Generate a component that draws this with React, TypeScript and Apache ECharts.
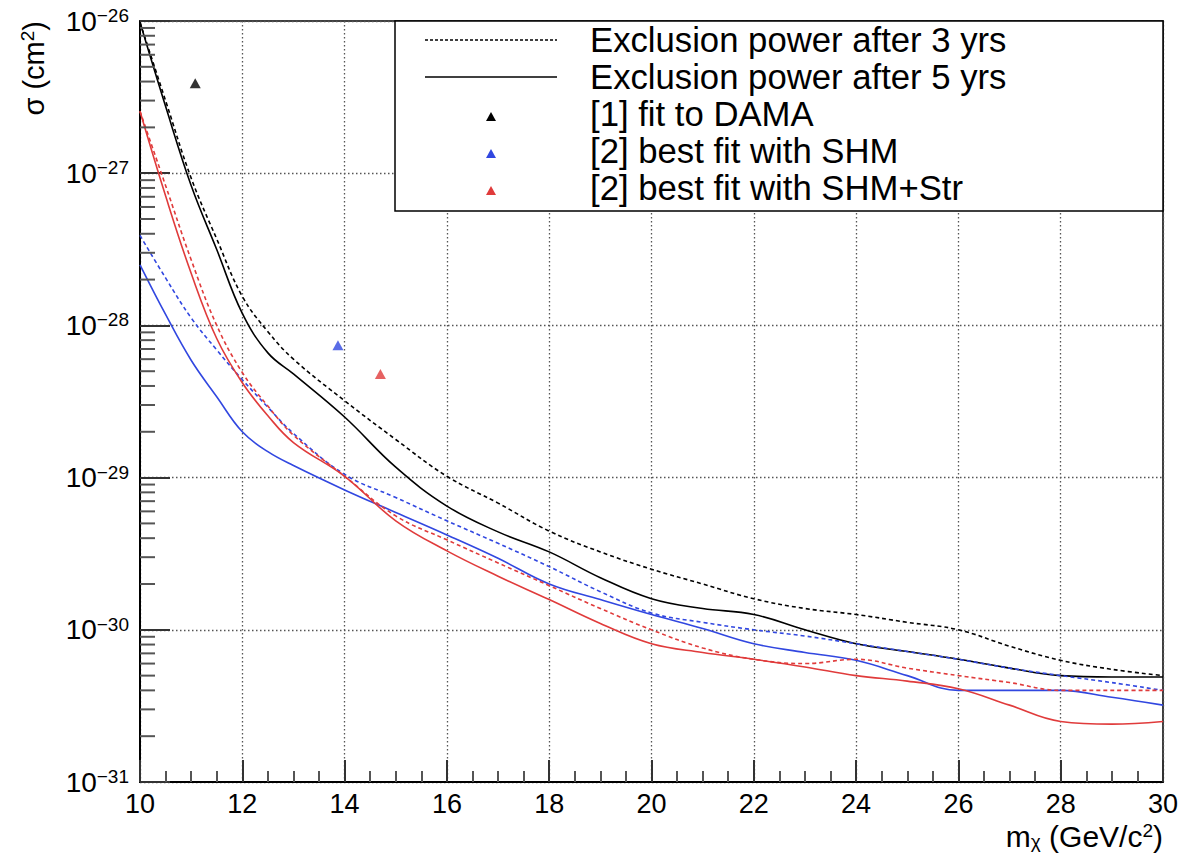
import React, { useEffect, useRef } from 'react';
import * as echarts from 'echarts';

// WIMP mass (GeV/c^2)
const mass = [10, 10.5, 11, 11.5, 12, 12.5, 13, 14, 15, 16, 17, 18, 19, 20, 21, 22, 23, 24, 25, 26, 27, 28, 29, 30];

// Exclusion power (cm^2)
const black3yrs = [9.8e-27, 3.0e-27, 9.3e-28, 3.7e-28, 1.55e-28, 9.1e-29, 6.0e-29, 3.2e-29, 1.78e-29, 1.02e-29, 6.8e-30, 4.45e-30, 3.25e-30, 2.5e-30, 2.0e-30, 1.6e-30, 1.38e-30, 1.26e-30, 1.12e-30, 1.0e-30, 7.8e-31, 6.3e-31, 5.5e-31, 5.0e-31];
const black5yrs = [9.8e-27, 2.75e-27, 8.3e-28, 3.15e-28, 1.2e-28, 6.6e-29, 4.8e-29, 2.5e-29, 1.17e-29, 6.5e-30, 4.4e-30, 3.25e-30, 2.2e-30, 1.6e-30, 1.38e-30, 1.26e-30, 1.0e-30, 8.1e-31, 7.2e-31, 6.4e-31, 5.6e-31, 5.0e-31, 4.9e-31, 4.9e-31];
const blue3yrs = [3.9e-28, 2.05e-28, 1.12e-28, 6.9e-29, 4.4e-29, 2.9e-29, 1.95e-29, 1.05e-29, 7.4e-30, 5.2e-30, 3.7e-30, 2.6e-30, 1.78e-30, 1.29e-30, 1.12e-30, 1.0e-30, 9.1e-31, 8.1e-31, 7.2e-31, 6.4e-31, 5.6e-31, 5.0e-31, 4.5e-31, 4.0e-31];
const blue5yrs = [2.5e-28, 1.18e-28, 5.9e-29, 3.4e-29, 2.0e-29, 1.48e-29, 1.2e-29, 8.3e-30, 5.9e-30, 4.2e-30, 2.95e-30, 2.0e-30, 1.58e-30, 1.26e-30, 1.02e-30, 8.1e-31, 7.1e-31, 6.3e-31, 5.0e-31, 4.0e-31, 4.0e-31, 4.0e-31, 3.6e-31, 3.2e-31];
const red3yrs = [2.55e-27, 8.3e-28, 2.7e-28, 1.0e-28, 4.9e-29, 2.95e-29, 1.9e-29, 1.02e-29, 5.6e-30, 3.9e-30, 2.75e-30, 1.95e-30, 1.38e-30, 1.0e-30, 7.6e-31, 6.4e-31, 6.0e-31, 6.4e-31, 5.6e-31, 5.0e-31, 4.5e-31, 4.0e-31, 4.0e-31, 4.0e-31];
const red5yrs = [2.55e-27, 7.1e-28, 2.2e-28, 8.2e-29, 4.2e-29, 2.55e-29, 1.7e-29, 1.02e-29, 5.2e-30, 3.3e-30, 2.25e-30, 1.58e-30, 1.1e-30, 8.1e-31, 7.1e-31, 6.4e-31, 5.7e-31, 5.0e-31, 4.6e-31, 4.1e-31, 3.2e-31, 2.5e-31, 2.4e-31, 2.5e-31];

// Best-fit points [mass, sigma]
const damaFit = [11.08, 3.9e-27];
const shmFit = [13.87, 7.4e-29];
const shmStrFit = [14.7, 4.8e-29];

// Axis settings (y is drawn on a log10 scale: decades are exponents)
const xTicks = [10, 12, 14, 16, 18, 20, 22, 24, 26, 28, 30];
const yDecades = [-31, -30, -29, -28, -27, -26];
const minorMultipliers = [2, 3, 4, 5, 6, 7, 8, 9];

const legendLabels = [
  'Exclusion power after 3 yrs',
  'Exclusion power after 5 yrs',
  '[1] fit to DAMA',
  '[2] best fit with SHM',
  '[2] best fit with SHM+Str',
];

const FONT = '"Liberation Sans", Arial, Helvetica, sans-serif';
const BLACK = '#000000';
const BLUE = '#3147e0';
const RED = '#e03b3b';

const lg = (v: number) => Math.log10(v);
const zip = (ys: number[]) => mass.map((m, i) => [m, lg(ys[i])]);

export default function App() {
  const ref = useRef<HTMLDivElement>(null);

  useEffect(() => {
    if (!ref.current) return;
    const chart = echarts.init(ref.current, undefined, { renderer: 'svg' });

    const minorTickData: number[][] = [];
    for (let d = 0; d < yDecades.length - 1; d++) {
      for (const k of minorMultipliers) {
        minorTickData.push([xTicks[0], yDecades[d] + Math.log10(k)]);
      }
    }

    const lineSeries = (name: string, ys: number[], color: string, dashed: boolean) => ({
      name,
      type: 'line',
      data: zip(ys),
      smooth: 0.4,
      showSymbol: false,
      symbol: 'none',
      clip: true,
      lineStyle: { color, width: 1.6, type: dashed ? [4, 3] : 'solid' },
      z: 3,
    });

    const tri = (name: string, pt: number[], color: string) => ({
      name,
      type: 'scatter',
      data: [[pt[0], lg(pt[1])]],
      symbol: 'triangle',
      symbolSize: [11, 10],
      itemStyle: { color },
      z: 4,
    });

    const rowY = [40, 77, 114, 151, 188];
    const legendGraphics: any[] = [
      {
        type: 'rect',
        z: 100,
        shape: { x: 395, y: 21, width: 768, height: 190 },
        style: { fill: '#ffffff', stroke: '#000', lineWidth: 1.5 },
      },
      {
        type: 'line',
        z: 101,
        shape: { x1: 425, y1: rowY[0], x2: 557, y2: rowY[0] },
        style: { stroke: '#000', lineWidth: 1.4, lineDash: [3, 2] },
      },
      {
        type: 'line',
        z: 101,
        shape: { x1: 425, y1: rowY[1], x2: 557, y2: rowY[1] },
        style: { stroke: '#000', lineWidth: 1.6 },
      },
    ];
    const triColors = [BLACK, BLUE, RED];
    triColors.forEach((c, i) => {
      const cy = rowY[i + 2] + 3;
      legendGraphics.push({
        type: 'polygon',
        z: 101,
        shape: { points: [[491, cy - 5], [486, cy + 4], [496, cy + 4]] },
        style: { fill: c },
      });
    });
    legendLabels.forEach((t, i) => {
      legendGraphics.push({
        type: 'text',
        z: 101,
        x: 590,
        y: rowY[i],
        style: {
          text: t,
          fill: '#000',
          font: `34.7px ${FONT}`,
          align: 'left',
          verticalAlign: 'middle',
        },
      });
    });

    const titleGraphics = [
      {
        type: 'text',
        z: 101,
        x: 1163,
        y: 836,
        style: {
          text: '{a|m}{sub|χ}{a| (GeV/c}{sup|2}{a|)}',
          align: 'right',
          verticalAlign: 'middle',
          rich: {
            a: { fontSize: 30, fontFamily: FONT, fill: '#000', lineHeight: 30 },
            sub: { fontSize: 19, fontFamily: FONT, fill: '#000', lineHeight: 12, verticalAlign: 'bottom' },
            sup: { fontSize: 19, fontFamily: FONT, fill: '#000', lineHeight: 12, verticalAlign: 'top' },
          },
        },
      },
      {
        type: 'text',
        z: 101,
        x: 34,
        y: 21,
        rotation: Math.PI / 2,
        style: {
          text: '{a|σ (cm}{sup|2}{a|)}',
          align: 'right',
          verticalAlign: 'middle',
          rich: {
            a: { fontSize: 29, fontFamily: FONT, fill: '#000', lineHeight: 32 },
            sup: { fontSize: 19, fontFamily: FONT, fill: '#000', lineHeight: 14, verticalAlign: 'top' },
          },
        },
      },
    ];

    const option: any = {
      animation: false,
      backgroundColor: '#ffffff',
      grid: {
        left: 140,
        right: 21,
        top: 21,
        bottom: 71,
        show: true,
        borderColor: '#000',
        borderWidth: 1.5,
        backgroundColor: 'transparent',
      },
      xAxis: {
        type: 'value',
        min: xTicks[0],
        max: xTicks[xTicks.length - 1],
        interval: 2,
        axisLine: { show: true, lineStyle: { color: '#000', width: 2 } },
        axisTick: { show: true, inside: true, length: 22, lineStyle: { color: '#333', width: 2 } },
        minorTick: { show: true, splitNumber: 4, length: 11, lineStyle: { color: '#555', width: 2 } },
        splitLine: { show: true, lineStyle: { color: '#555', width: 1.3, type: [1.5, 2.5] } },
        axisLabel: { fontSize: 27, fontFamily: FONT, color: '#000', margin: 8 },
      },
      yAxis: {
        type: 'value',
        min: yDecades[0],
        max: yDecades[yDecades.length - 1],
        interval: 1,
        axisLine: { show: true, lineStyle: { color: '#000', width: 2 } },
        axisTick: { show: true, inside: true, length: 30, lineStyle: { color: '#333', width: 2 } },
        splitLine: { show: true, lineStyle: { color: '#555', width: 1.3, type: [1.5, 2.5] } },
        axisLabel: {
          margin: 11,
          formatter: (v: number) => {
            const e = Math.round(v);
            return `{b|10}{s|${e < 0 ? '\u2212' : ''}${Math.abs(e)}}`;
          },
          rich: {
            b: { fontSize: 28, fontFamily: FONT, color: '#000', lineHeight: 30 },
            s: { fontSize: 19, fontFamily: FONT, color: '#000', lineHeight: 16, verticalAlign: 'top' },
          },
        },
      },
      graphic: [...legendGraphics, ...titleGraphics],
      series: [
        {
          name: 'minor ticks',
          type: 'custom',
          data: minorTickData,
          encode: { x: 0, y: 1 },
          clip: false,
          silent: true,
          z: 5,
          renderItem: (params: any, api: any) => {
            const p = api.coord([api.value(0), api.value(1)]);
            return {
              type: 'line',
              shape: { x1: p[0], y1: p[1], x2: p[0] + 15, y2: p[1] },
              style: { stroke: '#555', lineWidth: 2 },
            };
          },
        },
        lineSeries('Exclusion power after 3 yrs', black3yrs, BLACK, true),
        lineSeries('Exclusion power after 5 yrs', black5yrs, BLACK, false),
        lineSeries('SHM 3 yrs', blue3yrs, BLUE, true),
        lineSeries('SHM 5 yrs', blue5yrs, BLUE, false),
        lineSeries('SHM+Str 3 yrs', red3yrs, RED, true),
        lineSeries('SHM+Str 5 yrs', red5yrs, RED, false),
        tri('[1] fit to DAMA', damaFit, BLACK),
        tri('[2] best fit with SHM', shmFit, BLUE),
        tri('[2] best fit with SHM+Str', shmStrFit, RED),
      ],
    };

    chart.setOption(option);
    return () => chart.dispose();
  }, []);

  return (
    <div
      ref={ref}
      style={{ position: 'absolute', left: 0, top: 0, width: 1184, height: 853, background: '#fff' }}
    />
  );
}
